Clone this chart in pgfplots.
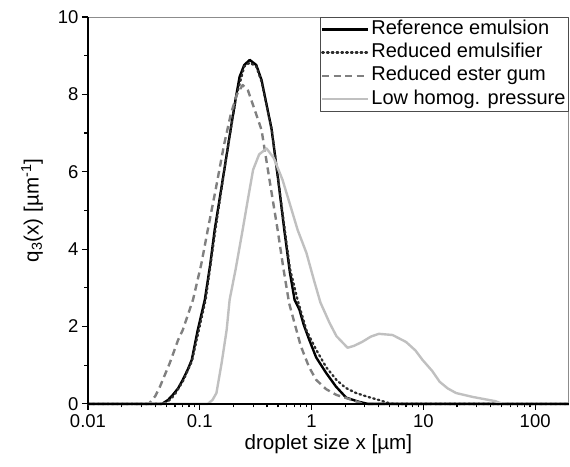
\documentclass[border=0pt]{standalone}
\usepackage{fontspec}
\setmainfont{Liberation Sans}
\usepackage{pgfplots}
\pgfplotsset{compat=1.18}

\definecolor{dotc}{HTML}{2E2E2E}
\definecolor{dashc}{HTML}{808080}
\definecolor{lowc}{HTML}{C0C0C0}

\begin{document}
\begin{tikzpicture}
\begin{axis}[
  scale only axis,
  width=481pt, height=387pt,
  xmode=log,
  xmin=0.01, xmax=200,
  ymin=0, ymax=10,
  xtick={0.01,0.1,1,10,100},
  xticklabels={0.01,0.1,1,10,100},
  ytick={0,2,4,6,8,10},
  minor y tick num=1,
  xtick pos=lower, ytick pos=left,
  tick align=outside,
  major tick length=6pt, minor tick length=3.5pt,
  every tick/.style={black, line width=1.2pt},
  axis line style={draw=black!45, line width=0.7pt},
  /pgf/number format/assume math mode=true,
  tick label style={font=\fontsize{18.5}{20}\selectfont},
  xticklabel style={yshift=-1pt},
  label style={font=\fontsize{20.6}{23}\selectfont},
  xlabel={droplet size x [µm]},
  ylabel={q\textsubscript{3}(x) [µm\textsuperscript{-1}]},
  ylabel shift=8pt,
  legend style={at={(1,1)}, anchor=north east, draw=black!70, line width=0.6pt,
    inner xsep=1pt, inner ysep=0.5pt, row sep=0pt, legend cell align=left,
    nodes={font=\fontsize{20}{22}\selectfont, inner sep=2pt, text height=14.8pt, text depth=4.4pt}},
  legend image code/.code={\draw[#1] (0pt,0pt) -- (46pt,0pt);},
  clip=false,
  line join=round,
]
% reference emulsion
\addplot[black, line width=2.4pt] coordinates {
 (0.01,0) (0.046,0) (0.052,0.1) (0.0574,0.23) (0.064,0.4) (0.0705,0.62) (0.0785,0.9)
 (0.0849,1.14) (0.096,1.91) (0.111,2.69) (0.124,3.6) (0.136,4.5) (0.152,5.37)
 (0.17,6.25) (0.19,7.14) (0.21,7.9) (0.227,8.45) (0.25,8.76) (0.28,8.89) (0.32,8.76)
 (0.357,8.37) (0.40,7.67) (0.44,7.08) (0.5,5.85) (0.57,4.5) (0.64,3.4) (0.705,2.69)
 (0.78,2.43) (0.85,2.05) (0.955,1.65) (1.1,1.2) (1.35,0.8) (1.65,0.45) (2.04,0.16)
 (2.67,0.05) (3.2,0) (200,0)};
\addlegendentry{Reference emulsion}
% reduced emulsifier
\addplot[dotc, line width=2.3pt, dash pattern=on 1.6pt off 3.2pt, line cap=round] coordinates {
 (0.01,0) (0.048,0) (0.055,0.12) (0.06,0.25) (0.0705,0.58) (0.085,1.1) (0.098,1.9)
 (0.113,2.7) (0.138,4.5) (0.17,6.25) (0.21,7.9) (0.25,8.72) (0.28,8.82) (0.32,8.72)
 (0.357,8.33) (0.44,7.1) (0.5,5.85) (0.57,4.6) (0.64,3.5) (0.75,2.69) (0.9,1.9)
 (1.1,1.4) (1.35,0.95) (1.67,0.62) (2.0,0.42) (2.5,0.28) (3.2,0.18) (4.0,0.1)
 (4.9,0.02) (5.5,0) (200,0)};
\addlegendentry{Reduced emulsifier}
% reduced ester gum
\addplot[dashc, line width=2.4pt, dash pattern=on 7pt off 4.5pt] coordinates {
 (0.01,0) (0.035,0) (0.04,0.2) (0.044,0.44) (0.054,1.06) (0.064,1.65) (0.0705,1.91)
 (0.087,2.69) (0.103,3.6) (0.118,4.5) (0.14,5.6) (0.165,6.7) (0.19,7.5) (0.215,8.0)
 (0.242,8.24) (0.27,8.1) (0.31,7.6) (0.357,7.08) (0.42,5.8) (0.497,4.5) (0.56,3.5)
 (0.63,2.6) (0.8,1.5) (0.95,0.95) (1.1,0.62) (1.35,0.38) (1.67,0.23) (2.2,0.12)
 (2.9,0) (200,0)};
\addlegendentry{Reduced ester gum}
% low homogenisation pressure
\addplot[lowc, line width=2.4pt] coordinates {
 (0.01,0) (0.118,0) (0.13,0.1) (0.141,0.28) (0.157,1.06) (0.174,1.91) (0.185,2.69)
 (0.21,3.5) (0.242,4.5) (0.27,5.3) (0.3,6.05) (0.34,6.45) (0.396,6.6) (0.46,6.35)
 (0.55,5.79) (0.65,5.1) (0.75,4.5) (0.9,3.9) (1.05,3.2) (1.2,2.62) (1.45,2.09)
 (1.67,1.75) (2.1,1.45) (2.4,1.5) (2.83,1.6) (3.4,1.74) (4.0,1.81) (5.3,1.78)
 (7.0,1.6) (8.5,1.38) (9.8,1.14) (12,0.85) (14,0.57) (16.5,0.4) (19.6,0.28)
 (27.5,0.18) (38.6,0.1) (44,0.07) (50,0.01) (55,0) (200,0)};
\addlegendentry{Low homog. pressure}
\draw[black, line width=1.6pt] (rel axis cs:0,1) -- (rel axis cs:0,0) -- (rel axis cs:1,0);
\coordinate (bl) at (rel axis cs:0,0);
\coordinate (tr) at (rel axis cs:1,1);
\end{axis}
\path ([shift={(-88pt,-63pt)}]bl) rectangle ([shift={(1pt,17pt)}]tr);
\end{tikzpicture}
\end{document}
